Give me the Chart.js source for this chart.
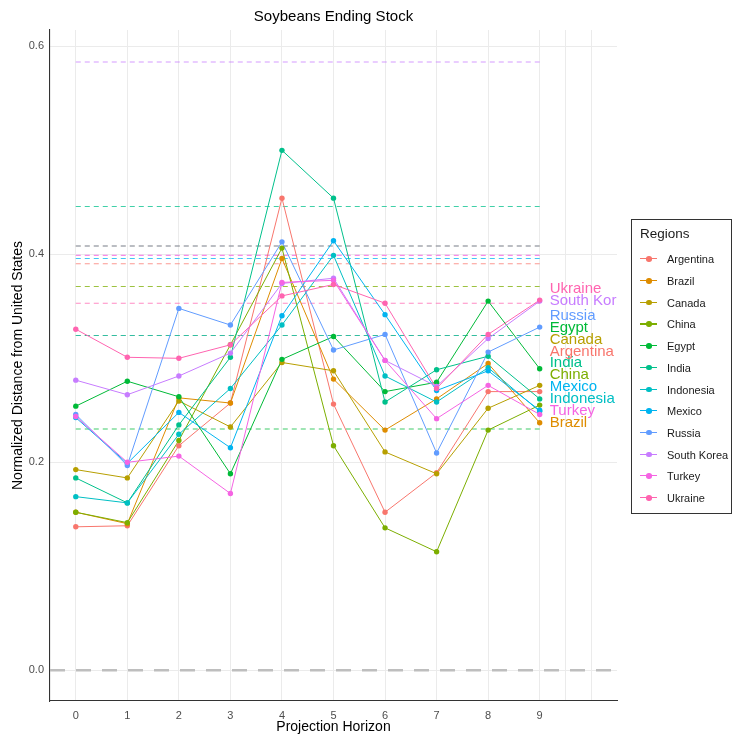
<!DOCTYPE html>
<html>
<head>
<meta charset="utf-8">
<title>Soybeans Ending Stock</title>
<script src="https://cdn.jsdelivr.net/npm/chart.js@4.4.1/dist/chart.umd.min.js"></script>
<style>
  body { margin: 0; background: #fff; }
  #wrap { position: relative; width: 737px; height: 736px; }
  #legend {
    position: absolute; left: 631px; top: 219px; width: 101px; height: 295px;
    border: 1px solid #333; box-sizing: border-box;
    font-family: "Liberation Sans", Arial, sans-serif; color: #1a1a1a;
  }
  #legend .title { position: absolute; left: 8px; top: 6px; font-size: 13.5px; }
  #legend .item { position: absolute; left: 8px; height: 14px; font-size: 11px; line-height: 14px; }
  #legend .key { position: absolute; left: 0; top: 6px; width: 17px; height: 1.2px; }
  #legend .dot { position: absolute; left: 6px; top: 4px; width: 5.5px; height: 5.5px; border-radius: 50%; }
  #legend .lab { position: absolute; left: 27px; top: 0; white-space: nowrap; }
</style>
</head>
<body>
<div id="wrap">
  <canvas id="chart" width="737" height="736"></canvas>
  <div id="legend"></div>
</div>
<script>
// projection horizon (x) and the regions in legend order
const horizon = [0, 1, 2, 3, 4, 5, 6, 7, 8, 9];
const regions = ["Argentina", "Brazil", "Canada", "China", "Egypt", "India",
                 "Indonesia", "Mexico", "Russia", "South Korea", "Turkey", "Ukraine"];

// normalized distance from United States, one array per region
const argentina  = [0.138, 0.139, 0.216, 0.257, 0.454, 0.256, 0.152, 0.190, 0.268, 0.268];
const brazil     = [0.152, 0.141, 0.262, 0.257, 0.396, 0.280, 0.231, 0.261, 0.295, 0.238];
const canada     = [0.193, 0.185, 0.259, 0.234, 0.296, 0.288, 0.210, 0.189, 0.252, 0.274];
const china      = [0.152, 0.142, 0.221, 0.313, 0.406, 0.216, 0.137, 0.114, 0.231, 0.255];
const egypt      = [0.254, 0.278, 0.263, 0.189, 0.299, 0.321, 0.268, 0.277, 0.355, 0.290];
const india      = [0.185, 0.161, 0.236, 0.301, 0.500, 0.454, 0.258, 0.289, 0.302, 0.261];
const indonesia  = [0.167, 0.161, 0.227, 0.271, 0.332, 0.399, 0.283, 0.258, 0.291, 0.249];
const mexico     = [0.243, 0.199, 0.248, 0.214, 0.341, 0.413, 0.342, 0.269, 0.288, 0.250];
const russia     = [0.246, 0.197, 0.348, 0.332, 0.412, 0.308, 0.323, 0.209, 0.306, 0.330];
const southKorea = [0.279, 0.265, 0.283, 0.305, 0.372, 0.377, 0.298, 0.273, 0.319, 0.355];
const turkey     = [0.244, 0.200, 0.206, 0.170, 0.373, 0.375, 0.298, 0.242, 0.274, 0.246];
const ukraine    = [0.328, 0.301, 0.300, 0.313, 0.360, 0.371, 0.353, 0.271, 0.323, 0.356];

// dashed reference level for each region (same order as regions)
const reference = [0.391, 0.408, 0.322, 0.369, 0.232, 0.446, 0.322, 0.396, 0.408, 0.585, 0.399, 0.353];

const yTicks = [0, 0.2, 0.4, 0.6];
const xGrid = [0, 1, 2, 3, 4, 5, 6, 7, 8, 9, 9.5, 10];

const series = [argentina, brazil, canada, china, egypt, india,
                indonesia, mexico, russia, southKorea, turkey, ukraine];
const palette = ["#F8766D", "#DE8C00", "#B79F00", "#7CAE00", "#00BA38", "#00C08B",
                 "#00BFC4", "#00B4F0", "#619CFF", "#C77CFF", "#F564E3", "#FF64B0"];

const FONT = '"Liberation Sans", Arial, sans-serif';

function alpha(hex, a) {
  const n = parseInt(hex.slice(1), 16);
  return `rgba(${n >> 16}, ${(n >> 8) & 255}, ${n & 255}, ${a})`;
}

const datasets = [];
const n = regions.length;
regions.forEach((name, i) => {
  const pts = series[i].map((v, k) => ({ x: horizon[k], y: v }));
  // points on top of every line, later regions above earlier ones
  datasets.push({
    label: name, data: pts, showLine: false,
    pointRadius: 2.7, pointBackgroundColor: palette[i], pointBorderWidth: 0,
    order: n - 1 - i
  });
  datasets.push({
    label: name + " line", data: pts, borderColor: palette[i], borderWidth: 1,
    pointRadius: 0, order: 20 + n - 1 - i
  });
  datasets.push({
    label: name + " ref",
    data: [{ x: horizon[0], y: reference[i] }, { x: horizon[horizon.length - 1], y: reference[i] }],
    borderColor: alpha(palette[i], 0.75), borderWidth: 1.1, borderDash: [5, 4],
    pointRadius: 0, order: 40 + n - 1 - i
  });
});

const overlay = {
  id: 'overlay',
  beforeDatasetsDraw(chart) {
    // dashed zero line
    const { ctx, chartArea } = chart;
    const y = chart.scales.y.getPixelForValue(0);
    ctx.save();
    ctx.strokeStyle = '#BEBEBE';
    ctx.lineWidth = 2.6;
    ctx.setLineDash([15, 11]);
    ctx.beginPath();
    ctx.moveTo(chartArea.left, y);
    ctx.lineTo(chartArea.right, y);
    ctx.stroke();
    ctx.restore();
  },
  afterDatasetsDraw(chart) {
    // region names at the end of each line, stacked so they don't overlap
    const { ctx, chartArea } = chart;
    const xs = chart.scales.x, ys = chart.scales.y;
    const last = horizon.length - 1;
    const items = regions.map((name, i) => ({ name, i, py: ys.getPixelForValue(series[i][last]) }));
    items.sort((a, b) => b.py - a.py);
    let prev = Infinity;
    items.forEach(it => {
      it.ly = Math.min(it.py, prev - 11.9);
      prev = it.ly;
    });
    ctx.save();
    ctx.beginPath();
    ctx.rect(chartArea.left, chartArea.top, chartArea.right - chartArea.left, chartArea.bottom - chartArea.top);
    ctx.clip();
    ctx.font = '15px ' + FONT;
    ctx.textBaseline = 'middle';
    ctx.textAlign = 'left';
    const lx = xs.getPixelForValue(horizon[last]) + 10;
    items.forEach(it => {
      ctx.fillStyle = palette[it.i];
      ctx.fillText(it.name, lx, it.ly);
    });
    ctx.restore();
  },
  afterDraw(chart) {
    const { ctx, chartArea } = chart;
    const cx = (chartArea.left + chartArea.right) / 2;
    ctx.save();
    ctx.fillStyle = '#000';
    ctx.textAlign = 'center';
    ctx.textBaseline = 'middle';
    ctx.font = '15px ' + FONT;
    ctx.fillText('Soybeans Ending Stock', cx, 17);
    ctx.font = '14px ' + FONT;
    ctx.fillText('Projection Horizon', cx, 727);
    ctx.translate(18, (chartArea.top + chartArea.bottom) / 2);
    ctx.rotate(-Math.PI / 2);
    ctx.fillText('Normalized Distance from United States', 0, 0);
    ctx.restore();
  }
};

new Chart(document.getElementById('chart'), {
  type: 'line',
  data: { datasets },
  options: {
    responsive: false,
    animation: false,
    devicePixelRatio: 1,
    layout: { padding: { top: 30, right: 120, bottom: 0, left: 0 } },
    plugins: { legend: { display: false }, tooltip: { enabled: false } },
    scales: {
      x: {
        type: 'linear', min: -0.5, max: 10.5,
        afterBuildTicks: s => { s.ticks = xGrid.map(v => ({ value: v })); },
        afterFit: s => { s.height = 35; },
        ticks: {
          autoSkip: false, maxRotation: 0, padding: 8,
          color: '#4D4D4D', font: { family: FONT, size: 11 },
          callback: v => (Number.isInteger(v) && v <= 9 ? String(v) : '')
        },
        grid: { color: '#EBEBEB', lineWidth: 1, drawTicks: false },
        border: { color: '#333', width: 1.1 }
      },
      y: {
        type: 'linear', min: -0.0295, max: 0.6157,
        afterBuildTicks: s => { s.ticks = yTicks.map(v => ({ value: v })); },
        afterFit: s => { s.width = 50; },
        ticks: {
          padding: 6, color: '#4D4D4D', font: { family: FONT, size: 11 },
          callback: v => v.toFixed(1)
        },
        grid: { color: '#EBEBEB', lineWidth: 1, drawTicks: false },
        border: { color: '#333', width: 1.1 }
      }
    }
  },
  plugins: [overlay]
});

// legend box
const legend = document.getElementById('legend');
legend.innerHTML = '<div class="title">Regions</div>' + regions.map((name, i) =>
  `<div class="item" style="top:${32.3 + i * 21.7}px">` +
  `<span class="key" style="background:${palette[i]}"></span>` +
  `<span class="dot" style="background:${palette[i]}"></span>` +
  `<span class="lab">${name}</span></div>`).join('');
</script>
</body>
</html>
